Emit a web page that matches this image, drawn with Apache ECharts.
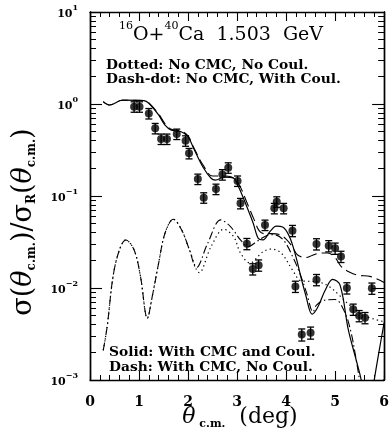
<!DOCTYPE html>
<html><head><meta charset="utf-8">
<script src="https://cdn.jsdelivr.net/npm/echarts@6/dist/echarts.min.js"></script>
<style>html,body{margin:0;padding:0;background:#fff}#c{width:392px;height:442px}</style>
</head><body><div id="c"></div>
<script>
// ---- Data ----
const expX = [0.90,1.01,1.20,1.33,1.45,1.57,1.77,1.95,2.02,2.20,2.32,2.57,2.70,2.82,3.01,3.07,3.20,3.32,3.44,3.57,3.76,3.81,3.95,4.13,4.19,4.32,4.50,4.62,4.62,4.87,5.00,5.12,5.24,5.37,5.49,5.61,5.75];
const expY = [0.935,0.935,0.79,0.544,0.417,0.417,0.472,0.399,0.291,0.153,0.0959,0.119,0.171,0.203,0.146,0.0833,0.0303,0.0161,0.0177,0.0484,0.0735,0.0867,0.0735,0.0420,0.0104,0.00312,0.00327,0.0301,0.0123,0.0287,0.0270,0.0220,0.0100,0.00586,0.00499,0.00475,0.00993];
const expErr = [0.13,0.13,0.13,0.13,0.13,0.13,0.13,0.13,0.13,0.13,0.13,0.13,0.13,0.13,0.13,0.13,0.14,0.14,0.14,0.13,0.13,0.13,0.13,0.14,0.14,0.15,0.15,0.14,0.14,0.14,0.14,0.14,0.14,0.14,0.14,0.14,0.14];

const solidX = [0.27,0.40,0.66,1.10,1.20,1.40,1.53,1.66,1.86,2.00,2.13,2.30,2.47,2.56,2.73,2.93,3.03,3.20,3.33,3.43,3.53,3.67,3.80,3.93,4.07,4.20,4.30,4.40,4.53,4.64,4.80,4.95,5.10,5.27,5.43,5.54,5.66,5.77,5.90,6.00];
const solidY = [1.06,0.975,1.10,1.09,1.02,0.76,0.59,0.52,0.50,0.44,0.316,0.208,0.156,0.149,0.160,0.156,0.126,0.0765,0.0505,0.0347,0.0333,0.041,0.047,0.046,0.036,0.0219,0.0133,0.0084,0.0052,0.0061,0.0095,0.0124,0.0108,0.0035,0.00165,0.00095,0.0003,0.0008,0.0021,0.0042];

const dashX = [0.27,0.40,0.66,1.10,1.20,1.40,1.53,1.66,1.86,2.00,2.10,2.30,2.50,2.70,2.90,3.05,3.20,3.35,3.45,3.55,3.70,3.87,4.00,4.13,4.23,4.40,4.53,4.70,4.85,5.00,5.13,5.30,5.46,5.73,6.00];
const dashY = [1.06,0.975,1.10,1.09,1.03,0.78,0.61,0.53,0.51,0.45,0.35,0.22,0.165,0.165,0.16,0.13,0.085,0.055,0.042,0.039,0.039,0.038,0.034,0.028,0.023,0.0214,0.0226,0.024,0.024,0.0214,0.017,0.0148,0.0138,0.0133,0.0115];

const dotX = [0.27,0.35,0.47,0.60,0.73,0.90,1.03,1.17,1.27,1.40,1.53,1.70,1.87,2.03,2.23,2.47,2.73,2.93,3.07,3.26,3.53,3.70,3.90,4.13,4.30,4.50,4.70,4.90,5.10,5.30,5.60,6.00];
const dotY = [0.0021,0.0038,0.0133,0.0259,0.0333,0.0259,0.0133,0.0047,0.0081,0.0186,0.0394,0.0558,0.0427,0.0259,0.0147,0.0282,0.0435,0.0361,0.024,0.0187,0.0248,0.0265,0.024,0.0157,0.0120,0.0118,0.0115,0.0102,0.0082,0.0065,0.0050,0.0043];

const dashDotX = [0.27,0.35,0.47,0.60,0.73,0.90,1.03,1.17,1.27,1.40,1.53,1.70,1.87,2.03,2.17,2.40,2.67,2.87,3.07,3.23,3.40,3.60,3.75,3.95,4.15,4.30,4.42,4.55,4.62,4.80,5.00,5.20,5.33,5.43,5.55,5.70,5.85,6.00];
const dashDotY = [0.0021,0.0038,0.0133,0.0259,0.0333,0.0259,0.0133,0.0047,0.0081,0.0186,0.0394,0.0558,0.0427,0.0259,0.0166,0.0306,0.055,0.0463,0.0333,0.0281,0.032,0.037,0.038,0.033,0.021,0.0135,0.0088,0.0055,0.0065,0.0074,0.0075,0.0054,0.0032,0.00166,0.0007,0.0003,0.0004,0.0011];

const xTickLabels = ['0','1','2','3','4','5','6'];
const yTickExps = {'1':'1','0':'0','-1':'−1','-2':'−2','-3':'−3'};
const yMinorTicks = [];
[0.001,0.01,0.1,1].forEach(d => { for (let k = 2; k <= 9; k++) yMinorTicks.push(d * k); });

// ---- Chart ----
const chart = echarts.init(document.getElementById('c'), null, {renderer: 'canvas'});
const SERIF = '"DejaVu Serif", "Liberation Serif", serif';
const grid = {left: 90, right: 2, top: 12, bottom: 62};
const lineAxis = {lineStyle: {color: '#000', width: 1.4}};

function pairs(xs, ys) { return xs.map((x, i) => [x, ys[i]]); }

const baseX = {type: 'value', min: 0, max: 6, interval: 1, gridIndex: 0,
  axisLine: lineAxis, splitLine: {show: false},
  axisTick: {inside: true, length: 9, lineStyle: {color: '#000', width: 1.1}},
  minorTick: {show: true, splitNumber: 5, length: 5, lineStyle: {color: '#000', width: 1}}};

const logAxis = {type: 'log', logBase: 10, min: 0.001, max: 10, gridIndex: 0,
  axisLine: lineAxis, splitLine: {show: false}, minorSplitLine: {show: false}};

const legendFont = 'bold 13.8px ' + SERIF;

const option = {
  animation: false,
  grid: grid,
  xAxis: [
    Object.assign({}, baseX, {position: 'bottom',
      axisLabel: {margin: 15, fontFamily: SERIF, fontWeight: 'bold', fontSize: 14, color: '#000',
        formatter: v => xTickLabels[Math.round(v)]}}),
    Object.assign({}, baseX, {position: 'top', axisLabel: {show: false}})
  ],
  yAxis: [
    Object.assign({}, logAxis, {position: 'left',
      axisTick: {inside: true, length: 12, lineStyle: {color: '#000', width: 1.1}},
      axisLabel: {margin: 12, color: '#000',
        formatter: v => '{b|10}{s|' + yTickExps[String(Math.round(Math.log10(v)))] + '}',
        rich: {b: {fontFamily: SERIF, fontWeight: 'bold', fontSize: 11, lineHeight: 16, verticalAlign: 'bottom'},
               s: {fontFamily: SERIF, fontWeight: 'bold', fontSize: 8, lineHeight: 8, verticalAlign: 'top'}}}}),
    Object.assign({}, logAxis, {position: 'left', axisLabel: {show: false},
      axisTick: {inside: true, length: 6, customValues: yMinorTicks, lineStyle: {color: '#000', width: 1}}}),
    Object.assign({}, logAxis, {position: 'right', axisLabel: {show: false},
      axisTick: {inside: true, length: 12, lineStyle: {color: '#000', width: 1.1}}}),
    Object.assign({}, logAxis, {position: 'right', axisLabel: {show: false},
      axisTick: {inside: true, length: 6, customValues: yMinorTicks, lineStyle: {color: '#000', width: 1}}})
  ],
  series: [
    {type: 'line', name: 'solid', data: pairs(solidX, solidY), smooth: 0.35, symbol: 'none', clip: true,
      lineStyle: {color: '#000', width: 1.2, type: 'solid'}},
    {type: 'line', name: 'dash', data: pairs(dashX, dashY), smooth: 0.35, symbol: 'none', clip: true,
      lineStyle: {color: '#000', width: 1.1, type: [11, 5]}},
    {type: 'line', name: 'dotted', data: pairs(dotX, dotY), smooth: 0.35, symbol: 'none', clip: true,
      lineStyle: {color: '#000', width: 1.2, type: [1.3, 3.2]}},
    {type: 'line', name: 'dashdot', data: pairs(dashDotX, dashDotY), smooth: 0.35, symbol: 'none', clip: true,
      lineStyle: {color: '#000', width: 1.1, type: [8, 3, 1.5, 3]}},
    {type: 'custom', name: 'err', clip: true,
      data: expX.map((x, i) => [x, expY[i], expY[i] * (1 - expErr[i]), expY[i] * (1 + expErr[i])]),
      encode: {x: 0, y: [1, 2, 3]},
      renderItem: function (params, api) {
        const x = api.value(0);
        const lo = api.coord([x, api.value(2)]);
        const hi = api.coord([x, api.value(3)]);
        const w = 3.5;
        const st = {stroke: '#000', lineWidth: 1.3};
        return {type: 'group', children: [
          {type: 'line', shape: {x1: lo[0], y1: lo[1], x2: hi[0], y2: hi[1]}, style: st},
          {type: 'line', shape: {x1: lo[0] - w, y1: lo[1], x2: lo[0] + w, y2: lo[1]}, style: st},
          {type: 'line', shape: {x1: hi[0] - w, y1: hi[1], x2: hi[0] + w, y2: hi[1]}, style: st}
        ]};
      }},
    {type: 'scatter', name: 'exp', data: pairs(expX, expY), symbol: 'circle', symbolSize: 8,
      itemStyle: {color: '#000'}, z: 5}
  ],
  graphic: [
    {type: 'text', x: 221, y: 33, style: {
      text: '{s|16}{m|O+}{s|40}{m|Ca  1.503  GeV}', align: 'center', verticalAlign: 'middle',
      rich: {m: {fontFamily: SERIF, fontSize: 19, lineHeight: 24, verticalAlign: 'bottom', fill: '#000'},
             s: {fontFamily: SERIF, fontSize: 11, lineHeight: 11, verticalAlign: 'top', fill: '#000'}}}},
    {type: 'text', x: 106, y: 65, style: {text: 'Dotted: No CMC, No Coul.', font: legendFont, fill: '#000', verticalAlign: 'middle'}},
    {type: 'text', x: 106, y: 79, style: {text: 'Dash-dot: No CMC, With Coul.', font: legendFont, fill: '#000', verticalAlign: 'middle'}},
    {type: 'text', x: 109, y: 352, style: {text: 'Solid: With CMC and Coul.', font: legendFont, fill: '#000', verticalAlign: 'middle'}},
    {type: 'text', x: 109, y: 367, style: {text: 'Dash: With CMC, No Coul.', font: legendFont, fill: '#000', verticalAlign: 'middle'}},
    {type: 'text', x: 24, y: 222, rotation: Math.PI / 2, style: {
      text: '{m|σ(}{i|θ}{u|c.m.}{m|)/σ}{u|R}{m|(}{i|θ}{u|c.m.}{m|)}', align: 'center', verticalAlign: 'middle',
      rich: {m: {fontFamily: SERIF, fontSize: 27, lineHeight: 27, verticalAlign: 'top', fill: '#000'},
             i: {fontFamily: SERIF, fontStyle: 'italic', fontSize: 27, lineHeight: 27, verticalAlign: 'top', fill: '#000'},
             u: {fontFamily: SERIF, fontWeight: 'bold', fontSize: 12, lineHeight: 12, padding: [21, 0, 0, 0], verticalAlign: 'bottom', fill: '#000'}}}},
    {type: 'text', x: 240, y: 418, style: {
      text: '{i|θ}{u| c.m.}{m|  (deg)}', align: 'center', verticalAlign: 'middle',
      rich: {m: {fontFamily: SERIF, fontSize: 22, lineHeight: 24, verticalAlign: 'top', fill: '#000'},
             i: {fontFamily: SERIF, fontStyle: 'italic', fontSize: 22, lineHeight: 24, verticalAlign: 'top', fill: '#000'},
             u: {fontFamily: SERIF, fontWeight: 'bold', fontSize: 11, lineHeight: 11, padding: [20, 0, 0, 0], verticalAlign: 'bottom', fill: '#000'}}}}
  ]
};
chart.setOption(option);
</script></body></html>
